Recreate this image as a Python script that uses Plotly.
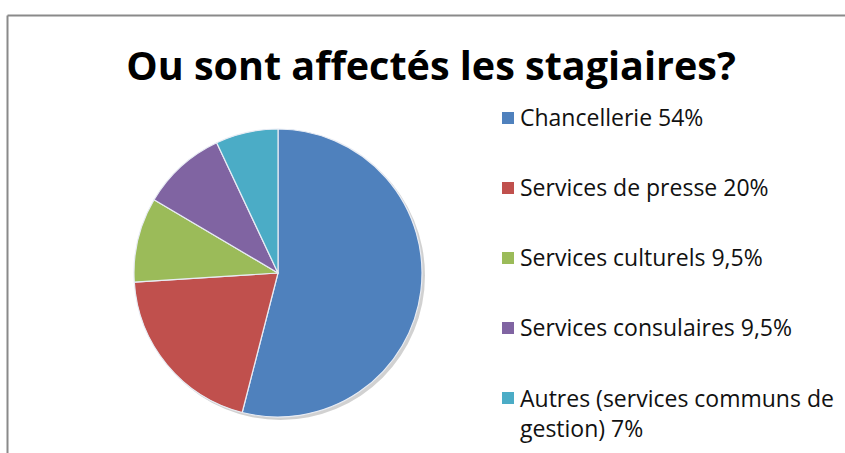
import plotly.graph_objects as go

labels = ["Chancellerie", "Services de presse", "Services culturels",
          "Services consulaires", "Autres (services communs de gestion)"]
values = [54, 20, 9.5, 9.5, 7]
value_text = ["54%", "20%", "9,5%", "9,5%", "7%"]
legend_labels = ["Chancellerie", "Services de presse", "Services culturels",
                 "Services consulaires", "Autres (services communs de<br>gestion)"]
colors = ["#4F81BD", "#C0504D", "#9BBB59", "#8064A2", "#4BACC6"]
title_text = "Ou sont affectés les stagiaires?"

W, H = 845, 453
def px(x): return x / W
def py(y): return 1 - y / H

fig = go.Figure()
fig.add_trace(go.Pie(
    labels=labels, values=values, sort=False, direction="clockwise", rotation=0,
    marker=dict(colors=colors, line=dict(color="#E8ECF4", width=1.2)),
    textinfo="none", hoverinfo="label+percent", showlegend=False,
    domain=dict(x=[px(134), px(422)], y=[py(417), py(129)]),
))

shapes = [
    # frame (top and left edges visible)
    dict(type="line", xref="paper", yref="paper", x0=px(7.5), x1=1.01, y0=py(15.5), y1=py(15.5),
         line=dict(color="#8A8A8A", width=2)),
    dict(type="line", xref="paper", yref="paper", x0=px(7.5), x1=px(7.5), y0=py(15.5), y1=-0.01,
         line=dict(color="#8A8A8A", width=2)),
    # soft shadow under the pie
    dict(type="circle", xref="paper", yref="paper", layer="below",
         x0=px(136), x1=px(425), y0=py(420), y1=py(131),
         fillcolor="rgba(0,0,0,0.18)", line=dict(width=0)),
]

annotations = []
centers = [117, 187, 257, 327, 412.5]
for i, lab in enumerate(legend_labels):
    c = centers[i]
    sq = 12
    shapes.append(dict(type="rect", xref="paper", yref="paper",
                       x0=px(502), x1=px(502 + sq),
                       y0=py((118 + 70 * i) + sq / 2), y1=py((118 + 70 * i) - sq / 2),
                       fillcolor=colors[i], line=dict(width=0)))
    annotations.append(dict(
        xref="paper", yref="paper", x=px(518), y=py(c), xanchor="left", yanchor="middle",
        text=f"{lab} {value_text[i]}", showarrow=False, align="left",
        font=dict(family="Open Sans", size=23, color="#111111"),
    ))

fig.update_layout(
    width=W, height=H, margin=dict(l=0, r=0, t=0, b=0),
    paper_bgcolor="white", plot_bgcolor="white",
    title=dict(text=f"<b>{title_text}</b>", x=px(431), xanchor="center",
               y=py(66), yanchor="middle", yref="container",
               font=dict(family="Open Sans", size=39.5, color="black")),
    shapes=shapes, annotations=annotations,
)

fig.write_html("out.html")
